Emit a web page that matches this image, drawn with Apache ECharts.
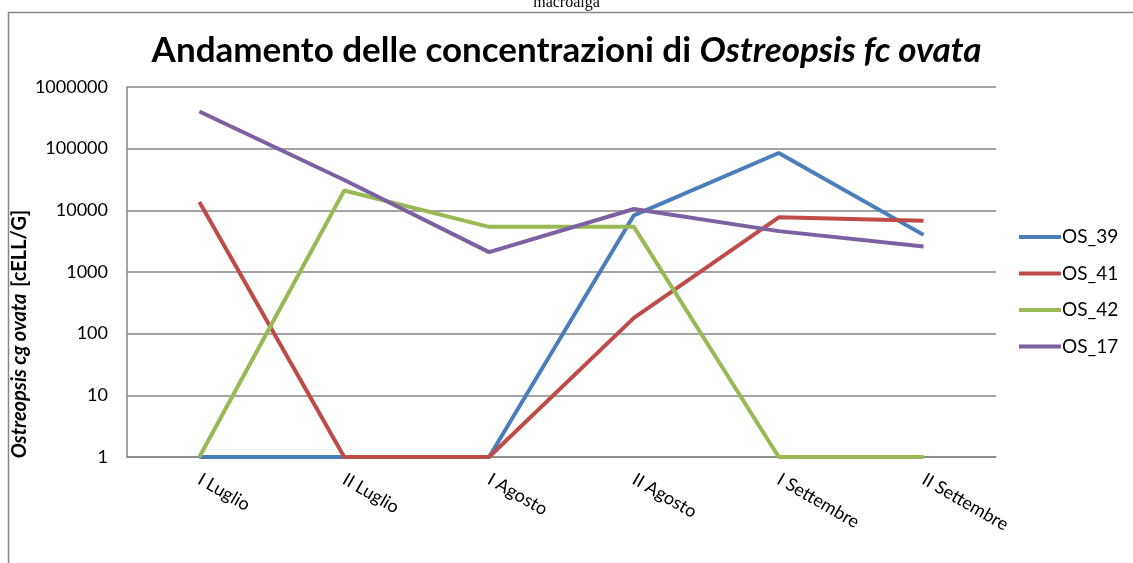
<!DOCTYPE html>
<html>
<head>
<meta charset="utf-8">
<script src="https://cdn.jsdelivr.net/npm/echarts@6/dist/echarts.min.js"></script>
<style>
  html, body { margin: 0; padding: 0; background: #fff; }
  #chart { width: 1133px; height: 563px; }
</style>
</head>
<body>
<div id="chart"></div>
<script>
const periods = ['I Luglio', 'II Luglio', 'I Agosto', 'II Agosto', 'I Settembre', 'II Settembre']
const os39 = [1, 1, 1, 8300, 85000, 4000]
const os41 = [13700, 1, 1, 180, 7700, 6800]
const os42 = [1, 21000, 5400, 5400, 1, 1]
const os17 = [400000, 31000, 2100, 10500, 4600, 2600]

const seriesDefs = [
  { name: 'OS_39', data: os39, color: '#4a7ebb' },
  { name: 'OS_41', data: os41, color: '#be4b48' },
  { name: 'OS_42', data: os42, color: '#98b954' },
  { name: 'OS_17', data: os17, color: '#7d60a0' }
]

const font = 'Lato, "Open Sans", sans-serif'
const chart = echarts.init(document.getElementById('chart'))

chart.setOption({
  animation: false,
  backgroundColor: '#fff',
  title: {
    text: '{a|Andamento delle concentrazioni di }{b|Ostreopsis fc ovata}',
    left: 'center',
    top: 28,
    textStyle: {
      rich: {
        a: { fontFamily: font, fontWeight: 'bold', fontSize: 35, color: '#000' },
        b: { fontFamily: font, fontWeight: 'bold', fontStyle: 'italic', fontSize: 35, color: '#000' }
      }
    }
  },
  graphic: [
    {
      type: 'rect', silent: true, z: -1,
      shape: { x: 8.5, y: 12.5, width: 1200, height: 600 },
      style: { fill: 'none', stroke: '#868686', lineWidth: 1.5 }
    },
    {
      type: 'text', left: 'center', top: -5,
      style: { text: 'macroalga', font: '16px "Liberation Serif", serif', fill: '#000' }
    },
    {
      type: 'text', x: 20, y: 334, rotation: Math.PI / 2,
      style: {
        text: '{i|Ostreopsis cg ovata}  {n|[cELL/G]}',
        align: 'center', verticalAlign: 'middle',
        rich: {
          i: { fontFamily: font, fontWeight: 'bold', fontStyle: 'italic', fontSize: 20, fill: '#000' },
          n: { fontFamily: font, fontWeight: 'bold', fontSize: 20, fill: '#000' }
        }
      }
    }
  ],
  legend: {
    orient: 'vertical',
    left: 1014,
    top: 222,
    itemGap: 16.5,
    itemWidth: 42,
    itemHeight: 4,
    icon: 'rect',
    textStyle: { fontFamily: font, fontSize: 19, color: '#000', padding: [0, 0, 0, -4], lineHeight: 20 },
    data: seriesDefs.map(s => s.name)
  },
  grid: { left: 127, right: 137, top: 87, bottom: 106 },
  xAxis: {
    type: 'category',
    data: periods,
    boundaryGap: true,
    axisLine: { lineStyle: { color: '#868686', width: 1.5 } },
    axisTick: { show: false },
    axisLabel: { rotate: -30, margin: 21, fontFamily: font, fontSize: 18, color: '#000' }
  },
  yAxis: {
    type: 'log',
    logBase: 10,
    min: 1,
    max: 1000000,
    axisLine: { show: true, lineStyle: { color: '#868686', width: 1.5 } },
    axisTick: { show: false },
    axisLabel: { margin: 19, fontFamily: font, fontSize: 18, color: '#000', formatter: v => String(Math.round(v)) },
    splitLine: { lineStyle: { color: '#868686', width: 1.5 } }
  },
  series: seriesDefs.map(s => ({
    name: s.name,
    type: 'line',
    data: s.data,
    symbol: 'none',
    color: s.color,
    lineStyle: { width: 4, color: s.color }
  }))
})
</script>
</body>
</html>
